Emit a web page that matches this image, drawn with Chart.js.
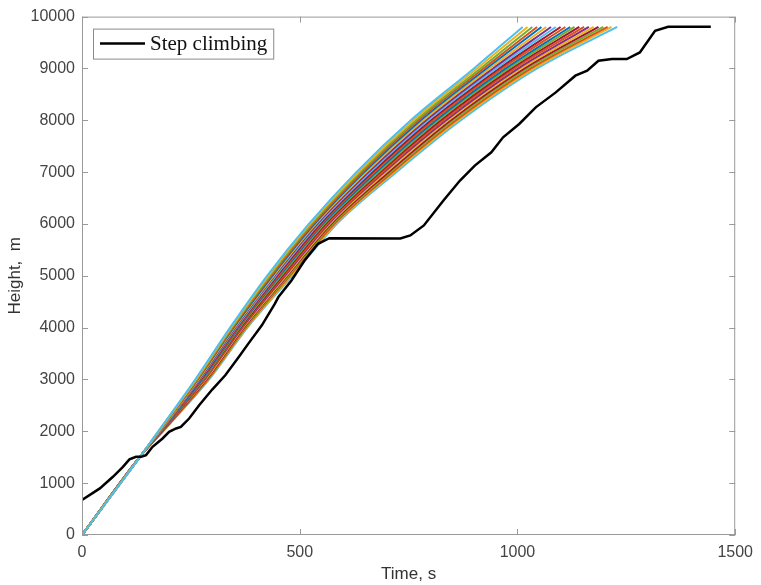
<!DOCTYPE html>
<html>
<head>
<meta charset="utf-8">
<script src="https://cdn.jsdelivr.net/npm/chart.js@4"></script>
<style>
  html, body { margin: 0; padding: 0; background: #fff; }
</style>
</head>
<body>
<canvas id="myChart" width="761" height="585"></canvas>
<script>
// axis ticks
const xTicks = [0, 500, 1000, 1500];
const yTicks = [0, 1000, 2000, 3000, 4000, 5000, 6000, 7000, 8000, 9000, 10000];

// step climbing profile (time s, height m)
const stepTime = [0, 41, 71, 94, 109, 124, 136, 147, 162, 185, 200, 216, 227, 246, 269, 299, 329, 360, 382, 413, 443,
  451, 481, 511, 542, 568, 731, 754, 785, 830, 868, 902, 940, 967, 1004, 1042, 1088, 1133, 1160, 1186, 1217, 1251,
  1281, 1316, 1346, 1444];
const stepHeight = [674, 899, 1123, 1316, 1458, 1508, 1508, 1541, 1701, 1862, 1990, 2055, 2086, 2247, 2504, 2806, 3082, 3434, 3692, 4045, 4462,
  4590, 4911, 5296, 5618, 5725, 5720, 5778, 5971, 6452, 6837, 7126, 7382, 7671, 7929, 8249, 8538, 8860, 8956, 9149, 9181, 9181,
  9309, 9727, 9804, 9804];

// bundle of trajectories: time at which each one reaches these heights
const bandHeights = [0, 1540, 2000, 3000, 4000, 5000, 6000, 7000, 8000, 9000, 9800];
const bandTimes = [
  [0, 136, 175, 260, 340, 425, 521, 630, 755, 900, 1012],
  [0, 136, 176, 262, 342, 428, 524, 635, 761, 907, 1023],
  [0, 136, 176, 263, 344, 431, 527, 639, 767, 915, 1034],
  [0, 136, 177, 265, 346, 434, 531, 644, 772, 922, 1045],
  [0, 136, 177, 266, 348, 437, 534, 648, 778, 929, 1055],
  [0, 136, 178, 268, 350, 440, 537, 653, 784, 936, 1066],
  [0, 136, 178, 270, 352, 442, 540, 658, 790, 944, 1077],
  [0, 136, 179, 271, 354, 445, 543, 662, 795, 951, 1088],
  [0, 136, 179, 273, 356, 448, 547, 667, 801, 958, 1099],
  [0, 136, 180, 274, 358, 451, 550, 671, 807, 965, 1110],
  [0, 136, 181, 276, 360, 454, 553, 676, 813, 973, 1121],
  [0, 136, 181, 278, 362, 457, 556, 681, 818, 980, 1131],
  [0, 136, 182, 279, 364, 460, 559, 685, 824, 987, 1142],
  [0, 136, 182, 281, 366, 463, 563, 690, 830, 994, 1153],
  [0, 136, 183, 282, 368, 466, 566, 694, 836, 1002, 1164],
  [0, 136, 183, 284, 370, 469, 569, 699, 841, 1009, 1175],
  [0, 136, 184, 286, 372, 471, 572, 704, 847, 1016, 1186],
  [0, 136, 184, 287, 374, 474, 575, 708, 853, 1023, 1197],
  [0, 136, 185, 289, 376, 477, 579, 713, 859, 1031, 1207],
  [0, 136, 186, 290, 378, 480, 582, 717, 864, 1038, 1216],
  [0, 136, 186, 292, 380, 483, 585, 722, 870, 1045, 1229]
];
const bandColors = ['#4DBEEE', '#EDB120', '#77AC30', '#D95319', '#0072BD', '#EDB120', '#7E2F8E',
  '#4DBEEE', '#A2142F', '#D95319', '#0072BD', '#77AC30', '#A2142F', '#D95319',
  '#7E2F8E', '#EDB120', '#A2142F', '#77AC30', '#D95319', '#EDB120', '#4DBEEE'];

const datasets = [{
  label: 'Step climbing',
  data: stepTime.map((t, i) => ({ x: t, y: stepHeight[i] })),
  borderColor: '#000',
  borderWidth: 2.5,
  pointRadius: 0,
  tension: 0
}];
bandTimes.forEach((row, k) => {
  datasets.push({
    label: 'run ' + (k + 1),
    data: row.map((t, i) => ({ x: t, y: bandHeights[i] })),
    borderColor: bandColors[k],
    borderWidth: 2,
    pointRadius: 0,
    cubicInterpolationMode: 'monotone'
  });
});

// box round the axes with inward ticks on all four sides
const frame = {
  id: 'frame',
  afterDatasetsDraw(chart) {
    const { ctx, chartArea: a, scales: { x, y } } = chart;
    ctx.save();
    ctx.strokeStyle = '#9a9a9a';
    ctx.lineWidth = 1;
    ctx.strokeRect(a.left + 0.5, a.top + 0.5, a.right - a.left - 1, a.bottom - a.top - 1);
    ctx.beginPath();
    x.ticks.forEach(t => {
      const px = Math.round(x.getPixelForValue(t.value)) + 0.5;
      ctx.moveTo(px, a.bottom); ctx.lineTo(px, a.bottom - 6);
      ctx.moveTo(px, a.top); ctx.lineTo(px, a.top + 6);
    });
    y.ticks.forEach(t => {
      const py = Math.round(y.getPixelForValue(t.value)) + 0.5;
      ctx.moveTo(a.left, py); ctx.lineTo(a.left + 6, py);
      ctx.moveTo(a.right, py); ctx.lineTo(a.right - 6, py);
    });
    ctx.stroke();
    ctx.restore();
  }
};

// legend box in the top left corner, first dataset only
const boxLegend = {
  id: 'boxLegend',
  afterDraw(chart) {
    const ds = chart.data.datasets[0];
    const { ctx, chartArea: a } = chart;
    const x0 = a.left + 11, y0 = a.top + 12;
    ctx.save();
    ctx.font = '21px "Liberation Serif", "Times New Roman", serif';
    const w = ctx.measureText(ds.label).width;
    const bw = 57 + w + 6, bh = 30;
    ctx.fillStyle = '#fff';
    ctx.fillRect(x0, y0, bw, bh);
    ctx.strokeStyle = '#8a8a8a';
    ctx.lineWidth = 1;
    ctx.strokeRect(x0 + 0.5, y0 + 0.5, bw, bh);
    ctx.strokeStyle = ds.borderColor;
    ctx.lineWidth = ds.borderWidth;
    ctx.beginPath();
    ctx.moveTo(x0 + 7, y0 + bh / 2);
    ctx.lineTo(x0 + 52, y0 + bh / 2);
    ctx.stroke();
    ctx.fillStyle = '#111';
    ctx.textBaseline = 'middle';
    ctx.fillText(ds.label, x0 + 57, y0 + bh / 2 + 1);
    ctx.restore();
  }
};

const tickFont = { family: '"Liberation Sans", Arial, sans-serif', size: 16 };
const titleFont = { family: '"Liberation Sans", Arial, sans-serif', size: 17 };

const config = {
  type: 'line',
  data: { datasets },
  options: {
    responsive: false,
    animation: false,
    events: [],
    layout: { padding: { left: 0, right: 20, top: 16, bottom: 0 } },
    plugins: { legend: { display: false }, tooltip: { enabled: false } },
    scales: {
      x: {
        type: 'linear',
        min: xTicks[0],
        max: xTicks[xTicks.length - 1],
        afterBuildTicks: s => { s.ticks = xTicks.map(v => ({ value: v })); },
        afterFit: s => { s.height = 50; },
        grid: { display: false, drawTicks: false },
        border: { display: false },
        ticks: { font: tickFont, color: '#444', padding: 8, maxRotation: 0, callback: v => String(v) },
        title: { display: true, text: 'Time, s', font: titleFont, color: '#333', padding: { top: 0, bottom: 0 } }
      },
      y: {
        type: 'linear',
        min: yTicks[0],
        max: yTicks[yTicks.length - 1],
        afterBuildTicks: s => { s.ticks = yTicks.map(v => ({ value: v })); },
        afterFit: s => { s.width = 82; },
        grid: { display: false, drawTicks: false },
        border: { display: false },
        ticks: { font: tickFont, color: '#444', padding: 7, callback: v => String(v) },
        title: { display: true, text: 'Height,  m', font: titleFont, color: '#333', padding: { top: 5, bottom: 0 } }
      }
    }
  },
  plugins: [frame, boxLegend]
};

const myChart = new Chart(document.getElementById('myChart'), config);
</script>
</body>
</html>
